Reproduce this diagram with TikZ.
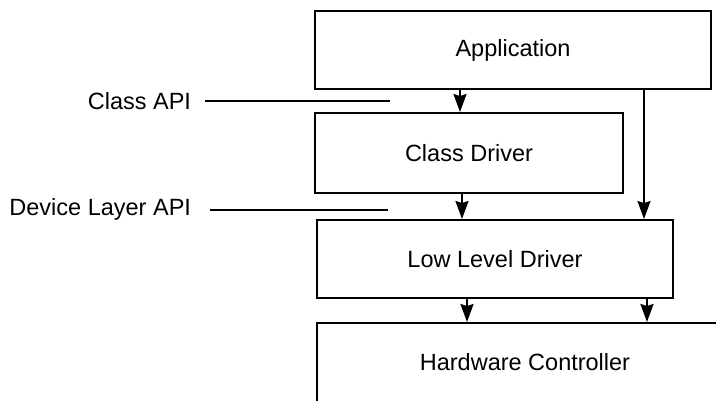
\documentclass[tikz,border=0pt]{standalone}
\usepackage{fontspec}
\setmainfont{Liberation Sans}
\usetikzlibrary{arrows.meta}
\begin{document}
\begin{tikzpicture}[x=1pt,y=-1pt,line width=2pt,
  txt/.style={font=\fontsize{23.5}{27}\selectfont},
  box/.style={draw,rectangle,inner sep=0pt,txt},
  arr/.style={-{Stealth[length=18pt,width=13pt,inset=2pt]}},
  lbl/.style={txt,anchor=east,inner sep=0pt}]
\useasboundingbox (0,0) rectangle (716,400);
\clip (0,0) rectangle (716,400);
\node[box,minimum width=396pt,minimum height=78pt] (app) at (513,50) {Application};
\node[box,minimum width=308pt,minimum height=80pt] (cd) at (469,153) {Class Driver};
\node[box,minimum width=356pt,minimum height=78pt] (lld) at (495,259) {Low Level Driver};
\node[box,minimum width=416pt,minimum height=90pt] (hw) at (525,368) {};
\node[txt] (hwt) at (525,362) {Hardware Controller};
\draw[arr] (app.south -| 460,0) -- (cd.north -| 460,0);
\draw[arr] (app.south -| 644,0) -- (lld.north -| 644,0);
\draw[arr] (cd.south -| 462,0) -- (lld.north -| 462,0);
\draw[arr] (lld.south -| 467,0) -- (hw.north -| 467,0);
\draw[arr] (lld.south -| 647,0) -- (hw.north -| 647,0);
\node[lbl] (capi) at (192,101) {Class API};
\node[lbl] (dapi) at (192,209) {Device Layer API};
\coordinate (capiend) at (390,101);
\coordinate (dapiend) at (388,210);
\draw ([xshift=13pt]capi.east) -- (capiend);
\draw ([xshift=18pt]dapi.east |- dapiend) -- (dapiend);
\end{tikzpicture}
\end{document}
